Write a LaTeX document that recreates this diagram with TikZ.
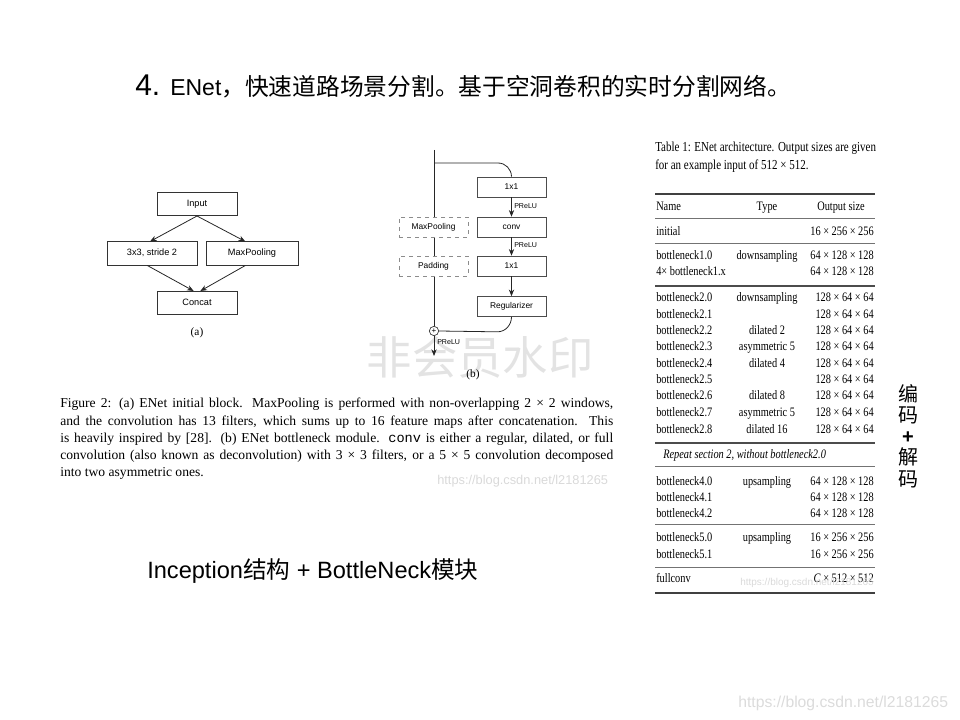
\documentclass[tikz,border=0pt]{standalone}
\usepackage{fontspec}
\setmainfont{Liberation Serif}
\setsansfont{Liberation Sans}
\setmonofont{Liberation Mono}
\newfontfamily\cjk{Noto Sans CJK SC}
\newfontfamily\tabfont[FakeStretch=0.8]{Liberation Serif}
\usetikzlibrary{arrows.meta,calc}
\tikzset{
  arr/.style={-{Stealth[length=5pt,width=4pt]}, line width=0.6pt, black!85},
  ln/.style={line width=0.6pt, black!85},
  boxa/.style={draw=black!80, line width=0.5pt, minimum height=17.5pt, inner sep=0pt, text height=5pt, text depth=1.5pt, font=\sffamily\fontsize{6.9}{8}\selectfont},
  boxb/.style={draw=black!70, fill=white, line width=0.5pt, minimum width=51.75pt, minimum height=15pt, inner sep=0pt, text height=4.6pt, text depth=1.4pt, font=\sffamily\fontsize{6.3}{7}\selectfont},
  dbox/.style={boxb, draw=black!45, dashed},
  prelu/.style={font=\sffamily\fontsize{5.3}{6}\selectfont, inner sep=0pt, anchor=west},
  tfont/.style={font=\tabfont\fontsize{9.7}{11}\selectfont},
  tname/.style={tfont, inner sep=0pt, anchor=mid west},
  ttype/.style={tfont, inner sep=0pt, anchor=mid},
  tsize/.style={tfont, inner sep=0pt, anchor=mid east},
  thick rule/.style={line width=1.2pt, black!75},
  thin rule/.style={line width=0.7pt, black!55},
  wm/.style={font=\sffamily, text=black!12, inner sep=0pt},
}
\begin{document}
\begin{tikzpicture}[x=0.75pt,y=-0.75pt]
\useasboundingbox (0,0) rectangle (960,720);

% watermarks (behind)
\node[wm, font=\cjk\fontsize{34}{36}\selectfont, text=black!11] (wmbig) at (480,357) {非会员水印};

% title
\node[anchor=base west, inner sep=0pt] (title) at (135,96) {{\sffamily\fontsize{22.5}{24}\selectfont 4.}\hspace{7.5pt}{\sffamily\fontsize{17.25}{20}\selectfont ENet}{\cjk\fontsize{17.8}{20}\selectfont ，快速道路场景分割。基于空洞卷积的实时分割网络。}};

% (a) initial block
\node[boxa, minimum width=60pt] (inp) at (197,204) {Input};
\node[boxa, minimum width=67.5pt] (s3) at (152,253.5) {3x3, stride 2};
\node[boxa, minimum width=69pt] (mp) at (252,253.5) {MaxPooling};
\node[boxa, minimum width=60pt] (cat) at (197,303) {Concat};
\draw[arr] (inp.south) -- ([xshift=-1.5pt]s3.north);
\draw[arr] (inp.south) -- ([xshift=-5pt]mp.north);
\draw[arr] ([xshift=-3.5pt]s3.south) -- ([xshift=-2.5pt]cat.north);
\draw[arr] ([xshift=-5pt]mp.south) -- ([xshift=2.5pt]cat.north);
\node[font=\fontsize{8.5}{10}\selectfont, inner sep=0pt] (la) at (197,333) {(a)};

% (b) bottleneck
\coordinate (top) at (434,150);
\coordinate (br) at (434,163);
\node[draw=black!80, circle, line width=0.5pt, minimum size=7pt, inner sep=0pt, fill=white, font=\sffamily\fontsize{6}{6}\selectfont] (plus) at (434,331) {+};
\coordinate (out) at (434,356);
\draw[ln] (top) -- (plus.north);
\node[dbox] (dmp) at (433.5,227) {MaxPooling};
\node[dbox] (dpad) at (433.5,266) {Padding};
\node[boxb] (b1) at (511.5,187) {1x1};
\node[boxb] (cv) at (511.5,227) {conv};
\node[boxb] (b2) at (511.5,266) {1x1};
\node[boxb] (reg) at (511.5,306.5) {Regularizer};
\draw[ln] (br) -- ++(64,0) to[out=0,in=90] (b1.north);
\draw[arr] (b1) -- (cv);
\draw[arr] (cv) -- (b2);
\draw[arr] (b2) -- (reg);
\draw[ln] (reg.south) to[out=-90,in=0] ++(-14,15) -- (plus.east);
\draw[arr] (plus.south) -- (out);
\node[prelu] (p1) at (514,206.5) {PReLU};
\node[prelu] (p2) at (514,245.5) {PReLU};
\node[prelu] (p3) at (437,342) {PReLU};
\node[font=\fontsize{8.5}{10}\selectfont, inner sep=0pt] (lb) at (473,375) {(b)};

% caption
\node[anchor=north west, inner sep=0pt, text width=414.75pt, align=justify,
      font=\fontsize{10.2}{12.95}\selectfont] (cap) at (60,398) {%
Figure 2: (a) ENet initial block. MaxPooling is performed with non-overlapping 2 × 2 windows,\linebreak
and the convolution has 13 filters, which sums up to 16 feature maps after concatenation. This\linebreak
is heavily inspired by [28]. (b) ENet bottleneck module. {\ttfamily conv} is either a regular, dilated, or full\linebreak
convolution (also known as deconvolution) with 3 × 3 filters, or a 5 × 5 convolution decomposed\linebreak
into two asymmetric ones.};
\node[wm, anchor=base west, font=\sffamily\fontsize{9.6}{10}\selectfont, text=black!15] (wm1) at (437,484) {https://blog.csdn.net/l2181265};

% Inception text
\node[anchor=base west, inner sep=0pt] (inc) at (147,578) {\sffamily\fontsize{17.7}{20}\selectfont Inception{\cjk 结构} + BottleNeck{\cjk 模块}};

% table caption
\node[tname, font=\tabfont\fontsize{10.3}{11}\selectfont] (tc1) at (655,148) {Table 1: ENet architecture. Output sizes are given};
\node[tname, font=\tabfont\fontsize{10.3}{11}\selectfont] (tc2) at (655,166) {for an example input of 512 × 512.};

% rules
\foreach \yy in {194,593} \draw[thick rule] (655,\yy) -- (875,\yy);
\foreach \yy in {218,243,466,524,567} \draw[thin rule] (655,\yy) -- (875,\yy);
\foreach \yy in {286,443} \draw[line width=1pt, black!70] (655,\yy) -- (875,\yy);

% header
\node[tname] (hn) at (656,207) {Name};
\node[ttype] (ht) at (767,207) {Type};
\node[ttype] (hs) at (841,207) {Output size};

\foreach \yy/\nm/\ty/\sz [count=\k] in {
  232/{initial}/{}/{16 × 256 × 256},
  256/{bottleneck1.0}/{downsampling}/{64 × 128 × 128},
  272/{4× bottleneck1.x}/{}/{64 × 128 × 128},
  298/{bottleneck2.0}/{downsampling}/{128 × 64 × 64},
  315/{bottleneck2.1}/{}/{128 × 64 × 64},
  331/{bottleneck2.2}/{dilated 2}/{128 × 64 × 64},
  347/{bottleneck2.3}/{asymmetric 5}/{128 × 64 × 64},
  364/{bottleneck2.4}/{dilated 4}/{128 × 64 × 64},
  380/{bottleneck2.5}/{}/{128 × 64 × 64},
  396/{bottleneck2.6}/{dilated 8}/{128 × 64 × 64},
  413/{bottleneck2.7}/{asymmetric 5}/{128 × 64 × 64},
  430/{bottleneck2.8}/{dilated 16}/{128 × 64 × 64},
  482/{bottleneck4.0}/{upsampling}/{64 × 128 × 128},
  498/{bottleneck4.1}/{}/{64 × 128 × 128},
  514/{bottleneck4.2}/{}/{64 × 128 × 128},
  538/{bottleneck5.0}/{upsampling}/{16 × 256 × 256},
  555/{bottleneck5.1}/{}/{16 × 256 × 256}}
{
  \node[tname] (rn\k) at (656,\yy) {\nm};
  \node[ttype] (rt\k) at (767,\yy) {\ty};
  \node[tsize] (rs\k) at (874,\yy) {\sz};
}
\node[tname, font=\tabfont\itshape\fontsize{9.7}{11}\selectfont] (rep) at (663,455) {Repeat section 2, without bottleneck2.0};
\node[tname] (fcn) at (656,579) {fullconv};
\node[tsize] (fcs) at (874,579) {\textit{C} × 512 × 512};
\node[wm, anchor=base west, font=\sffamily\fontsize{7.5}{8}\selectfont, text=black!15] (wm2) at (740,585) {https://blog.csdn.net/l2181265};

% right side text
\node[align=center, inner sep=0pt, font=\cjk\fontsize{15}{15.9}\selectfont] (ed) at (908,436) {编\\码\\{\sffamily\bfseries +}\\解\\码};

% bottom-right watermark
\node[wm, anchor=base west, font=\sffamily\fontsize{11.8}{12}\selectfont, text=black!14] (wm3) at (738,707) {https://blog.csdn.net/l2181265};
\end{tikzpicture}
\end{document}
